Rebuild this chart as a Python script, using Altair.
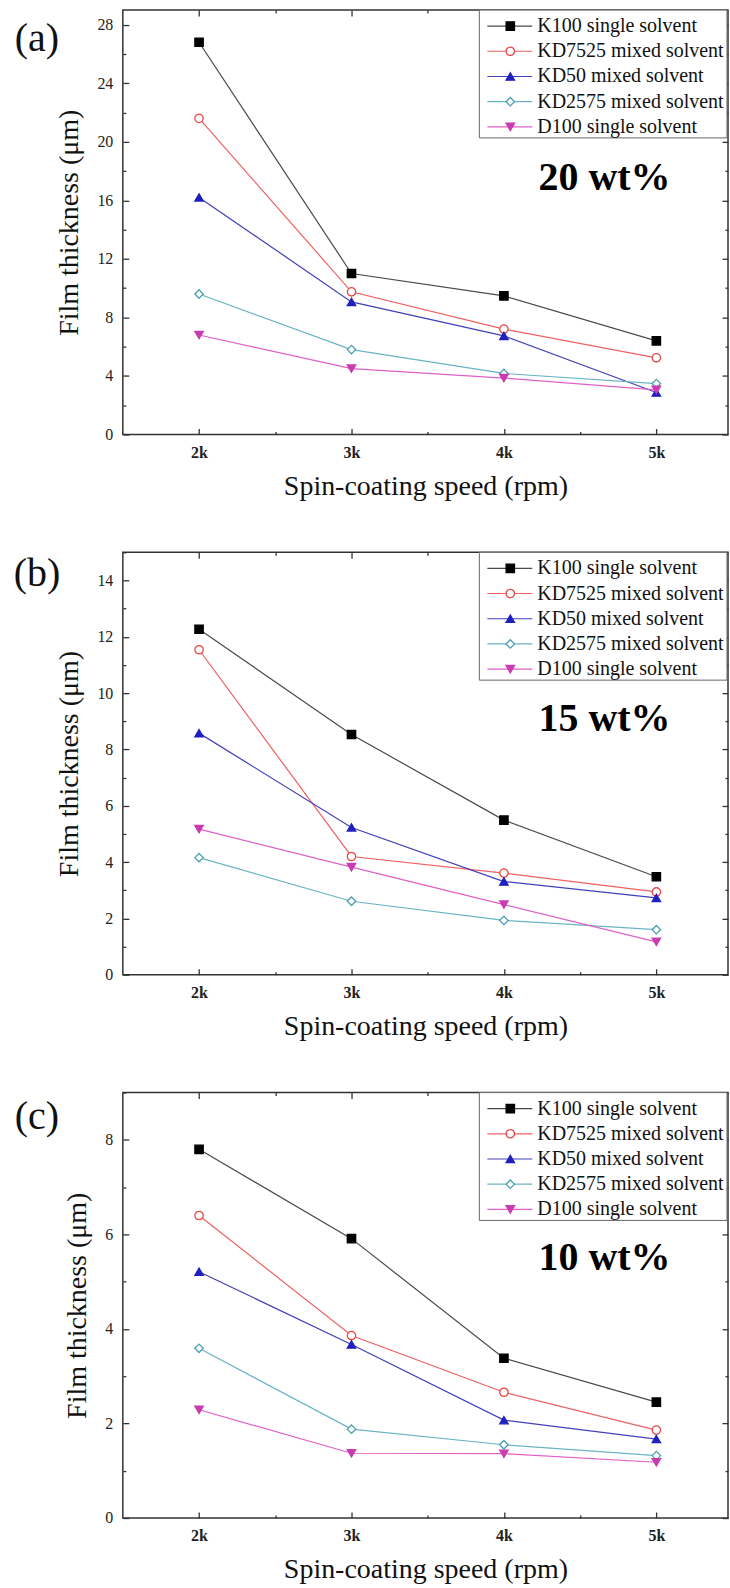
import altair as alt
import pandas as pd

# ---------------- data ----------------
series = ["K100 single solvent", "KD7525 mixed solvent", "KD50 mixed solvent",
          "KD2575 mixed solvent", "D100 single solvent"]
speeds = [2, 3, 4, 5]  # k rpm

# (a) 20 wt%
a_K100 = [26.8, 11.0, 9.47, 6.4]
a_KD7525 = [21.6, 9.75, 7.2, 5.24]
a_KD50 = [16.2, 9.06, 6.74, 2.87]
a_KD2575 = [9.6, 5.8, 4.17, 3.48]
a_D100 = [6.8, 4.5, 3.85, 3.05]

# (b) 15 wt%
b_K100 = [12.27, 8.53, 5.49, 3.48]
b_KD7525 = [11.54, 4.2, 3.61, 2.94]
b_KD50 = [8.58, 5.23, 3.31, 2.73]
b_KD2575 = [4.16, 2.61, 1.93, 1.6]
b_D100 = [5.17, 3.82, 2.49, 1.17]

# (c) 10 wt%
c_K100 = [7.8, 5.91, 3.38, 2.45]
c_KD7525 = [6.4, 3.86, 2.66, 1.86]
c_KD50 = [5.21, 3.67, 2.07, 1.67]
c_KD2575 = [3.59, 1.88, 1.55, 1.32]
c_D100 = [2.29, 1.37, 1.36, 1.18]

line_colors = ["#4a4a4a", "#f06060", "#4040b8", "#6ab4c4", "#e060c8"]
stroke_colors = ["#000000", "#e84848", "#2020c0", "#4aa0b4", "#c83cb0"]
fill_colors = ["#000000", "#ffffff", "#2020c0", "#ffffff", "#c83cb0"]
shapes = ["square", "circle", "triangle-up", "diamond", "triangle-down"]
marker_sizes = [70, 72, 80, 115, 80]

FONT = "Liberation Serif"
W = 606
AX = "#333333"


def panel(tag, conc, vals, ymax, ymaj, ystep, H, annot, tag_y):
    rows = []
    for name, ys_ in zip(series, vals):
        for s, v in zip(speeds, ys_):
            rows.append({"speed": s, "thickness": v, "series": name})
    df = pd.DataFrame(rows)

    xs = alt.Scale(domain=[1.5, 5.47], nice=False, zero=False)
    ys = alt.Scale(domain=[0, ymax], nice=False, zero=False)
    xall = [2, 2.5, 3, 3.5, 4, 4.5, 5]
    yall = []
    v = 0.0
    while v <= ymax + 1e-9:
        yall.append(round(v, 3))
        v += ystep
    xcond = {"condition": {"test": "datum.value % 1 === 0", "value": 6}, "value": 3}
    ycond = {"condition": {"test": f"datum.value % {ymaj[1]} === 0", "value": 6}, "value": 3}

    col = alt.Color("series:N", scale=alt.Scale(domain=series, range=line_colors), legend=None)
    shp = alt.Shape("series:N", scale=alt.Scale(domain=series, range=shapes), legend=None)
    fil = alt.Fill("series:N", scale=alt.Scale(domain=series, range=fill_colors), legend=None)
    stk = alt.Stroke("series:N", scale=alt.Scale(domain=series, range=stroke_colors), legend=None)
    siz = alt.Size("series:N", scale=alt.Scale(domain=series, range=marker_sizes), legend=None)

    x_label_axis = alt.Axis(orient="bottom", values=speeds, labelExpr="datum.value + 'k'",
                            labelFont=FONT, titleFont=FONT,
                            labelFontWeight="bold", labelFontSize=16, labelPadding=10,
                            labelColor="#222", ticks=False, domain=False, grid=False,
                            title="Spin-coating speed (rpm)", titleFontSize=28,
                            titleFontWeight="normal", titlePadding=12, titleColor="#111")
    y_label_axis = alt.Axis(orient="left", values=ymaj, labelFontSize=16, labelPadding=10,
                            labelFont=FONT, titleFont=FONT,
                            labelColor="#222", ticks=False, domain=False, grid=False,
                            title="Film thickness (μm)", titleFontSize=28,
                            titleFontWeight="normal", titlePadding=13, titleColor="#111")

    lines = alt.Chart(df).mark_line(strokeWidth=1.2).encode(
        x=alt.X("speed:Q", scale=xs, axis=x_label_axis),
        y=alt.Y("thickness:Q", scale=ys, axis=y_label_axis),
        color=col,
        detail="series:N",
    )

    points = alt.Chart(df).mark_point(strokeWidth=1.3, opacity=1).encode(
        x=alt.X("speed:Q", scale=xs,
                axis=alt.Axis(orient="top", offset=-H, values=xall, labels=False, domain=False,
                              grid=False, title=None, tickSize=xcond, tickColor=AX, tickWidth=1.3)),
        y=alt.Y("thickness:Q", scale=ys,
                axis=alt.Axis(orient="right", offset=-W, values=yall, labels=False, domain=False,
                              grid=False, title=None, tickSize=ycond, tickColor=AX, tickWidth=1.3)),
        shape=shp, fill=fil, stroke=stk, size=siz,
    )

    adf = pd.DataFrame([{"x": annot[0], "y": annot[1], "t": conc}])
    annot_txt = alt.Chart(adf).mark_text(font=FONT, fontSize=40, fontWeight="bold",
                                          align="center", baseline="alphabetic", color="#000").encode(
        x=alt.X("x:Q", scale=xs,
                axis=alt.Axis(orient="bottom", offset=-H, values=xall, labels=False, domain=False,
                              grid=False, title=None, tickSize=xcond, tickColor=AX, tickWidth=1.3)),
        y=alt.Y("y:Q", scale=ys,
                axis=alt.Axis(orient="left", offset=-W, values=yall, labels=False, domain=False,
                              grid=False, title=None, tickSize=ycond, tickColor=AX, tickWidth=1.3)),
        text="t:N",
    )

    one = pd.DataFrame([{"k": 0}])
    ldf = pd.DataFrame({"series": series})
    ly = alt.Y("series:N", scale=alt.Scale(type="point", domain=series, range=[16, 117], padding=0),
               axis=None)

    box = alt.Chart(one).mark_rect(fill="white", stroke="#666", strokeWidth=1).encode(
        x=alt.value(357), x2=alt.value(605), y=alt.value(0), y2=alt.value(128))
    lrule = alt.Chart(ldf).mark_rule(strokeWidth=1.2).encode(
        x=alt.value(365), x2=alt.value(410), y=ly, color=col)
    lpt = alt.Chart(ldf).mark_point(strokeWidth=1.3, opacity=1).encode(
        x=alt.value(388), y=ly, shape=shp, fill=fil, stroke=stk, size=siz)
    ltxt = alt.Chart(ldf).mark_text(font=FONT, fontSize=20, align="left", baseline="middle",
                                    color="#111").encode(
        x=alt.value(415), y=ly, text="series:N")

    tagtxt = alt.Chart(one).mark_text(font=FONT, fontSize=40, align="center", baseline="middle",
                                      color="#111").encode(
        x=alt.value(-86), y=alt.value(tag_y), text=alt.value(tag))

    return alt.layer(lines, points, annot_txt, box, lrule, lpt, ltxt, tagtxt).resolve_scale(
        x="independent", y="independent").properties(width=W, height=H)


pa = panel("(a)", "20 wt%", [a_K100, a_KD7525, a_KD50, a_KD2575, a_D100], 29,
           [0, 4, 8, 12, 16, 20, 24, 28], 2, 425, (4.66, 16.7), 29)
pb = panel("(b)", "15 wt%", [b_K100, b_KD7525, b_KD50, b_KD2575, b_D100], 15,
           [0, 2, 4, 6, 8, 10, 12, 14], 1, 423, (4.66, 8.67), 22)
pc = panel("(c)", "10 wt%", [c_K100, c_KD7525, c_KD50, c_KD2575, c_D100], 9,
           [0, 2, 4, 6, 8], 1, 426, (4.66, 5.24), 24)

chart = alt.vconcat(pa, pb, pc, spacing=49).properties(
    padding={"left": 12, "top": 7, "right": 0, "bottom": 0}
).configure(background="white", font=FONT).configure_view(
    stroke=AX, strokeWidth=1.5
).configure_text(font=FONT).configure_axis(labelFont=FONT, titleFont=FONT)

chart.save("out.html", embed_options={"renderer": "svg", "actions": False})
